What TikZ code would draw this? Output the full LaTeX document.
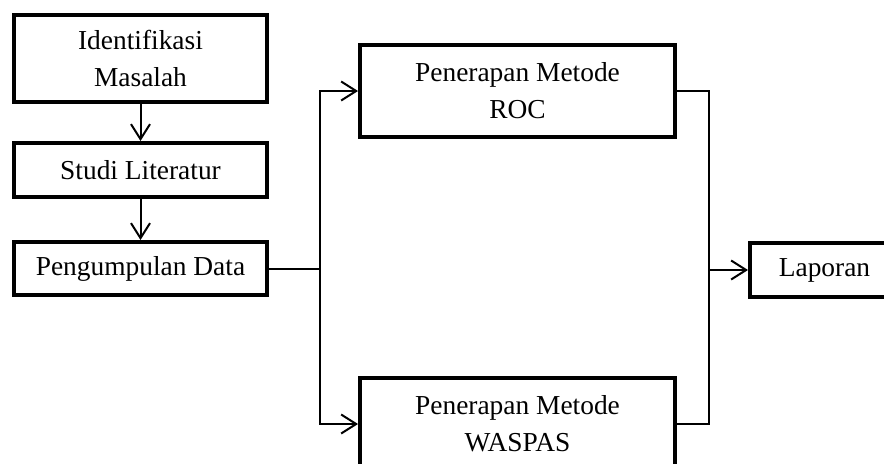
\documentclass[tikz,border=0pt]{standalone}
\usepackage{fontspec}
\setmainfont{Liberation Serif}
\usetikzlibrary{positioning}
\usetikzlibrary{arrows.meta}
\tikzset{
    mybox/.style = {rectangle, line width=0.08cm, draw=black, align=center, fill=white, font=\fontsize{15.6}{21}\selectfont, text=black, inner sep=0pt},
    edgen/.style = {-, line width=0.04cm, black},
    edgea/.style = {-{Straight Barb[length=0.3cm,width=0.38cm]}, line width=0.04cm, black},
}

\begin{document}
\begin{tikzpicture}[x=0.02cm, y=-0.02cm]
  \useasboundingbox (0,0) rectangle (884,463);
  \clip (0,0) rectangle (884,463);

  \node[mybox, minimum width=5.06cm, minimum height=1.74cm] (ident) at (140.5,58.5) {Identifikasi\\Masalah};
  \node[mybox, minimum width=5.06cm, minimum height=1.08cm] (studi) at (140.5,170) {Studi Literatur};
  \node[mybox, minimum width=5.06cm, minimum height=1.06cm] (data) at (140.5,268.5) {Pengumpulan Data};
  \node[mybox, minimum width=6.3cm, minimum height=1.84cm] (roc) at (517.5,91) {Penerapan Metode\\ROC};
  \node[mybox, minimum width=6.3cm, minimum height=1.84cm] (waspas) at (517.5,424) {Penerapan Metode\\WASPAS};
  \node[mybox, minimum width=3.4cm, minimum height=1.08cm, anchor=west] (laporan) at (748,270) {\hspace{0.08cm}Laporan\hspace{0.5cm}};

  \coordinate (split) at (320,268.5);
  \coordinate (merge) at (709,270);

  \draw[edgea] (ident) -- (studi);
  \draw[edgea] (studi) -- (data);
  \draw[edgen] (data.east) -- (split);
  \draw[edgea] (split) |- (roc.west);
  \draw[edgea] (split) |- (waspas.west);
  \draw[edgen] (roc.east) -| (merge);
  \draw[edgen] (waspas.east) -| (merge);
  \draw[edgea] (merge) -- (laporan.west);

\end{tikzpicture}
\end{document}
